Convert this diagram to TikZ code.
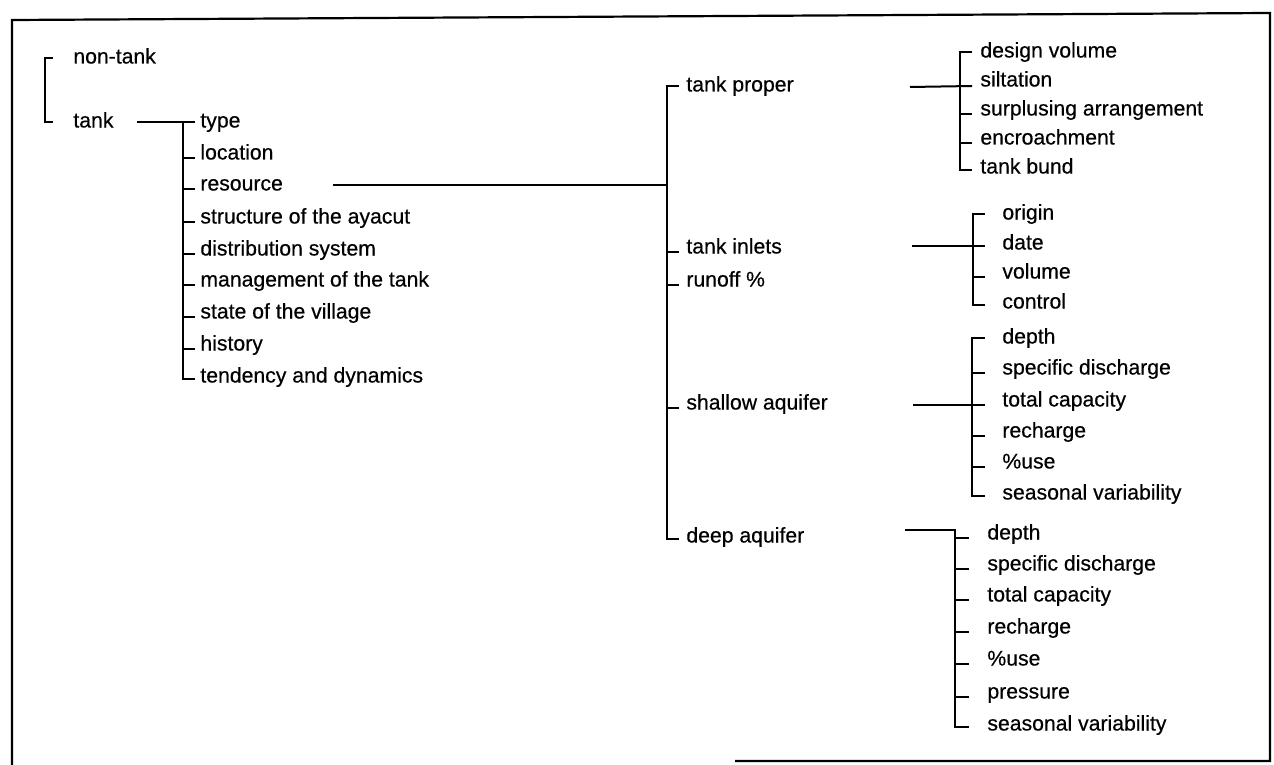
\documentclass[tikz,border=0pt]{standalone}
\usepackage{fontspec}
\setmainfont{Liberation Sans}[FakeBold=0.45]
\usetikzlibrary{calc}
\begin{document}
\begin{tikzpicture}[x=0.5pt,y=-0.5pt,
  lbl/.style={anchor=west,inner sep=0pt,text height=7.7pt,text depth=2.2pt,
              font=\fontsize{10.6pt}{12pt}\selectfont},
  ln/.style={line width=1pt},
  frm/.style={line width=1.1pt}]
\useasboundingbox (0,0) rectangle (1274,765);
\fill[white] (0,0) rectangle (1274,765);

% outer frame (open at the lower left)
\draw[frm] (12,765) -- (12,20) -- (1270,13) -- (1270,761) -- (735,761);

% ---- level 1 ----
\node[lbl] (nontank) at (73,58) {non-tank};
\node[lbl] (tank) at (73,122) {tank};
\coordinate (sp1) at (45,0);
\draw[ln] ($(nontank.west)+(-20,0)$) -| (sp1 |- tank.west) -- ($(tank.west)+(-20,0)$);

% ---- level 2: aspects of a tank ----
\node[lbl] (type)   at (200,122) {type};
\node[lbl] (loc)    at (200,154) {location};
\node[lbl] (res)    at (200,185) {resource};
\node[lbl] (struct) at (200,218) {structure of the ayacut};
\node[lbl] (dist)   at (200,250) {distribution system};
\node[lbl] (mgmt)   at (200,281) {management of the tank};
\node[lbl] (state)  at (200,313) {state of the village};
\node[lbl] (hist)   at (200,345) {history};
\node[lbl] (tend)   at (200,377) {tendency and dynamics};
\coordinate (tankout) at (137,122);
\coordinate (sp2) at (183,0);
\draw[ln] (tankout) -- ($(type.west)+(-5,0)$);
\draw[ln] (sp2 |- type.west) -- ($(sp2 |- tend.west)+(0,2)$) -- ($(tend.west)+(-5,2)$);
\foreach \n in {loc,res,struct,dist,mgmt,state,hist}
  \draw[ln] ($(sp2 |- \n.west)+(0,4)$) -- ($(\n.west)+(-5,4)$);

% ---- level 3: components of the resource ----
\node[lbl] (tp) at (686,86)  {tank proper};
\node[lbl] (ti) at (686,248) {tank inlets};
\node[lbl] (ro) at (686,281) {runoff \%};
\node[lbl] (sa) at (686,404) {shallow aquifer};
\node[lbl] (da) at (686,537) {deep aquifer};
\coordinate (resout) at (333,185);
\coordinate (sp3) at (667,0);
\draw[ln] (resout) -- (sp3 |- resout);
\draw[ln] ($(tp.west)+(-7,0)$) -| ($(sp3 |- da.west)+(0,2)$) -- ($(da.west)+(-7,2)$);
\foreach \n in {ti,ro,sa}
  \draw[ln] ($(sp3 |- \n.west)+(0,4)$) -- ($(\n.west)+(-7,4)$);

% ---- tank proper ----
\node[lbl] (dv)  at (980,52)  {design volume};
\node[lbl] (sil) at (980,81)  {siltation};
\node[lbl] (sur) at (980,110) {surplusing arrangement};
\node[lbl] (enc) at (980,139) {encroachment};
\node[lbl] (tb)  at (980,168) {tank bund};
\coordinate (tpout) at (910,87);
\coordinate (sp4) at (960,0);
\draw[ln] (tpout) -- ($(sil.west)+(-8,5)$);
\draw[ln] ($(dv.west)+(-8,0)$) -| ($(sp4 |- tb.west)+(0,2)$) -- ($(tb.west)+(-8,2)$);
\foreach \n in {sur,enc}
  \draw[ln] ($(sp4 |- \n.west)+(0,4)$) -- ($(\n.west)+(-8,4)$);

% ---- tank inlets ----
\node[lbl] (or) at (1002,214) {origin};
\node[lbl] (dt) at (1002,244) {date};
\node[lbl] (vo) at (1002,273) {volume};
\node[lbl] (ct) at (1002,303) {control};
\coordinate (tiout) at (912,246);
\coordinate (sp5) at (973,0);
\draw[ln] (tiout) -- ($(dt.west)+(-17,2)$);
\draw[ln] ($(or.west)+(-17,0)$) -| ($(sp5 |- ct.west)+(0,2)$) -- ($(ct.west)+(-17,2)$);
\draw[ln] ($(sp5 |- vo.west)+(0,4)$) -- ($(vo.west)+(-17,4)$);

% ---- shallow aquifer ----
\node[lbl] (da1) at (1002,338) {depth};
\node[lbl] (sd1) at (1002,369) {specific discharge};
\node[lbl] (tc1) at (1002,401) {total capacity};
\node[lbl] (rc1) at (1002,432) {recharge};
\node[lbl] (pu1) at (1002,463) {\%use};
\node[lbl] (sv1) at (1002,494) {seasonal variability};
\coordinate (saout) at (913,405);
\coordinate (sp6) at (972,0);
\draw[ln] (saout) -- ($(tc1.west)+(-17,4)$);
\draw[ln] ($(da1.west)+(-17,0)$) -| ($(sp6 |- sv1.west)+(0,2)$) -- ($(sv1.west)+(-17,2)$);
\foreach \n in {sd1,rc1,pu1}
  \draw[ln] ($(sp6 |- \n.west)+(0,4)$) -- ($(\n.west)+(-17,4)$);

% ---- deep aquifer ----
\node[lbl] (da2) at (987,534) {depth};
\node[lbl] (sd2) at (987,565) {specific discharge};
\node[lbl] (tc2) at (987,596) {total capacity};
\node[lbl] (rc2) at (987,628) {recharge};
\node[lbl] (pu2) at (987,660) {\%use};
\node[lbl] (pr2) at (987,693) {pressure};
\node[lbl] (sv2) at (987,725) {seasonal variability};
\coordinate (daout) at (905,530);
\coordinate (sp7) at (955,0);
\draw[ln] (daout) -| ($(sp7 |- sv2.west)+(0,2)$) -- ($(sv2.west)+(-18,2)$);
\foreach \n in {da2,sd2,tc2,rc2,pu2,pr2}
  \draw[ln] ($(sp7 |- \n.west)+(0,4)$) -- ($(\n.west)+(-18,4)$);
\end{tikzpicture}
\end{document}
